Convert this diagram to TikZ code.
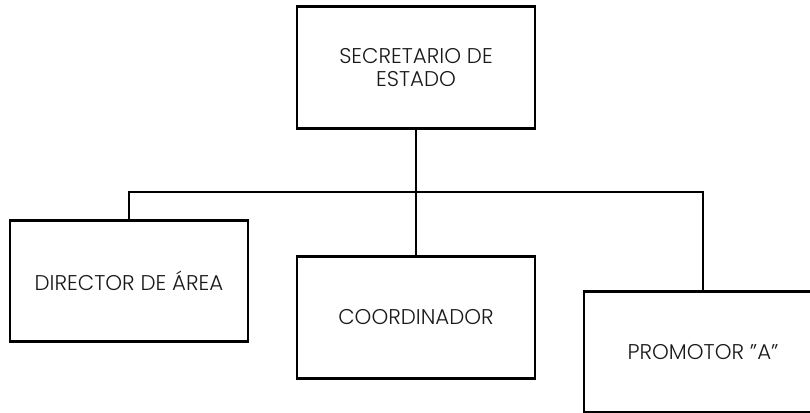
\documentclass[tikz,border=0pt]{standalone}
\usepackage{fontspec}
\setmainfont{Poppins}[UprightFont=* Light]
\usepackage{tikz}
\usetikzlibrary{positioning}
\usetikzlibrary{calc}
\usetikzlibrary{math}

\begin{document}
\begin{tikzpicture}[x=0.75pt,y=-0.75pt,line width=2.2pt,
  cargo/.style={draw, rectangle, align=center, text=black!90,
    minimum width=178.5pt, minimum height=91pt, inner sep=2pt,
    font=\fontsize{16}{17.5}\selectfont}]

  \tikzmath{
    \barY = 192; % height of the horizontal bar
  }

  % frame of the picture
  \useasboundingbox (0,0) rectangle (810,413);

  % the four boxes
  \node[cargo] (sec)   at (416, 67.5) {SECRETARIO DE\\ESTADO};
  \node[cargo] (dir)   at (129, 281)  {DIRECTOR DE ÁREA};
  \node[cargo] (coord) at (416, 317.5) {COORDINADOR};
  \node[cargo] (prom)  at (703, 352)  {PROMOTOR "A"};

  % branch point under the top box
  \coordinate (bar) at (416, \barY);

  % connectors
  \draw (sec) -- (coord);
  \draw (dir.north) |- (bar) -| (prom.north);

\end{tikzpicture}
\end{document}
